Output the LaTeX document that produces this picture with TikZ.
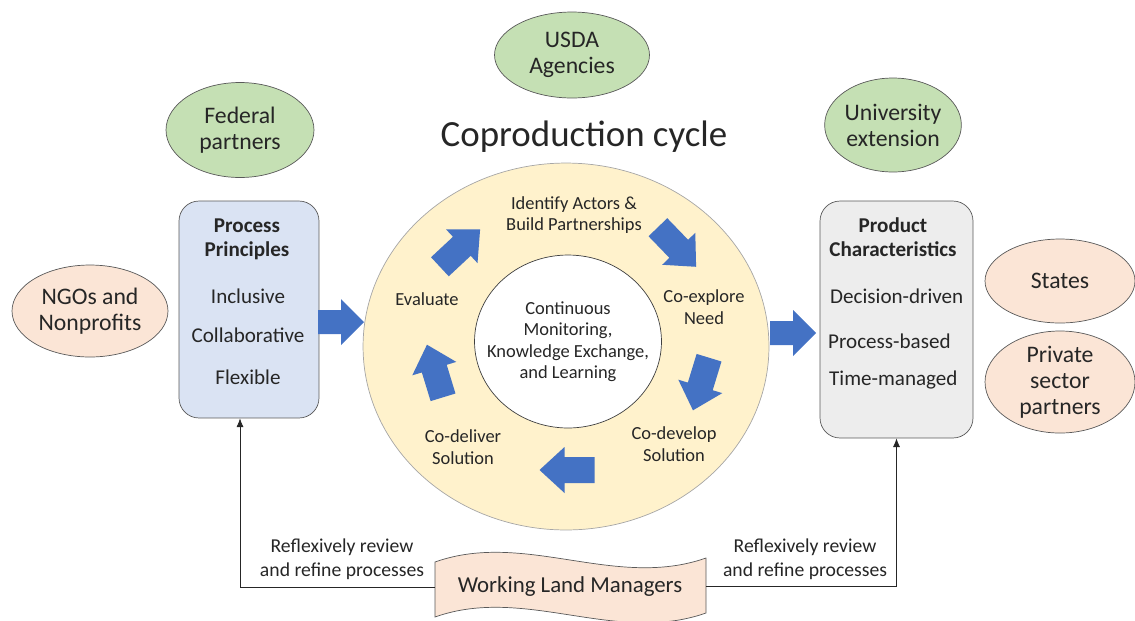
\documentclass[tikz,border=0pt]{standalone}
\usepackage{fontspec}
\setmainfont{Carlito}
\usetikzlibrary{shapes.geometric, arrows.meta}
\definecolor{cyclefill}{HTML}{FFF2CC}
\definecolor{partnergreen}{HTML}{C5E0B4}
\definecolor{stakepeach}{HTML}{FBE5D6}
\definecolor{principlesblue}{HTML}{DAE3F3}
\definecolor{productgrey}{HTML}{EDEDED}
\definecolor{arrowblue}{HTML}{4472C4}
\definecolor{ink}{HTML}{262626}
\tikzset{
  blockarrow/.pic={
    \fill[arrowblue] (-27.5,-13) -- (2.5,-13) -- (2.5,-23) -- (27.5,0) -- (2.5,23) -- (2.5,13) -- (-27.5,13) -- cycle;
  },
  sidearrow/.pic={
    \fill[arrowblue] (-23,-12) -- (0,-12) -- (0,-23) -- (23,0) -- (0,23) -- (0,12) -- (-23,12) -- cycle;
  }
}
\begin{document}
\begin{tikzpicture}[x=0.02cm, y=-0.02cm, text=ink,
		partner/.style={ellipse, draw=black!65, fill=partnergreen, align=center, inner sep=0pt, font=\fontsize{13.5}{14.8}\selectfont},
		stake/.style={ellipse, draw=black!65, fill=stakepeach, align=center, inner sep=0pt, font=\fontsize{13.5}{14.8}\selectfont},
		box/.style={draw=black!65, rounded corners=0.4cm},
		boxtitle/.style={font=\bfseries\fontsize{12}{13.8}\selectfont, align=center},
		boxitem/.style={font=\fontsize{12}{14}\selectfont},
		steplabel/.style={font=\fontsize{10.5}{12.2}\selectfont, align=center},
		fb/.style={black!85, -{Latex[length=5pt, width=4pt]}}]
		\useasboundingbox (0,0) rectangle (1135,620);
		% Partner ellipses
		\node[partner, minimum width=2.96cm, minimum height=1.9cm] (Federal) at (240,130) {Federal\\partners};
		\node[partner, minimum width=3.1cm, minimum height=1.72cm] (USDA) at (572,55) {USDA\\Agencies};
		\node[partner, minimum width=2.7cm, minimum height=1.88cm] (University) at (893,125) {University\\extension};
		\node[stake, minimum width=3.12cm, minimum height=1.84cm] (NGOs) at (90,311) {NGOs and\\Nonprofits};
		\node[stake, minimum width=3.0cm, minimum height=1.68cm] (States) at (1060,281) {States};
		\node[stake, minimum width=3.0cm, minimum height=1.92cm] (Private) at (1060,382) {Private\\sector\\partners};
		% Coproduction cycle
		\node[font=\fontsize{21}{24}\selectfont] (Title) at (584,137) {Coproduction cycle};
		\node[ellipse, draw=black!35, fill=cyclefill, minimum width=8.12cm, minimum height=7.34cm] (Cycle) at (566,346.5) {};
		\node[ellipse, draw=black!75, fill=white, minimum width=3.74cm, minimum height=3.46cm, inner sep=0pt] (Hub) at (568,341.5) {};
		\node[font=\fontsize{10.5}{12.2}\selectfont, align=center] (Learning) at (Hub) {Continuous\\Monitoring,\\Knowledge Exchange,\\and Learning};
		\node[steplabel] (Identify) at (574,215) {Identify Actors \&\\Build Partnerships};
		\node[steplabel] (Explore) at (704,307) {Co-explore\\Need};
		\node[steplabel] (Develop) at (674,444) {Co-develop\\Solution};
		\node[steplabel] (Deliver) at (463,447) {Co-deliver\\Solution};
		\node[steplabel] (Evaluate) at (427,299) {Evaluate};
		\pic[rotate=43] at (460,248) {blockarrow};
		\pic[rotate=-46] at (677,247) {blockarrow};
		\pic[rotate=-107] at (701,384) {blockarrow};
		\pic[rotate=180] at (567,470) {blockarrow};
		\pic[rotate=107] at (435,371) {blockarrow};
		% Boxes
		\node[box, fill=principlesblue, minimum width=2.8cm, minimum height=4.34cm] (Principles) at (249,309.5) {};
		\node[boxtitle] (PrinciplesTitle) at (247,239) {Process\\Principles};
		\node[boxitem] (Inclusive) at (248,296) {Inclusive};
		\node[boxitem] (Collaborative) at (248,335) {Collaborative};
		\node[boxitem] (Flexible) at (248,377) {Flexible};
		\node[box, fill=productgrey, minimum width=3.06cm, minimum height=4.74cm] (Product) at (896.5,319.5) {};
		\node[boxtitle] (ProductTitle) at (893,237) {Product\\Characteristics};
		\node[boxitem, anchor=west] (Decision) at (824,296) {Decision-driven};
		\node[boxitem, anchor=west] (ProcessBased) at (822,341) {Process-based};
		\node[boxitem, anchor=west] (TimeManaged) at (823,380) {Time-managed};
		\pic at (341,322) {sidearrow};
		\pic at (793,333) {sidearrow};
		% Working Land Managers
		\fill[stakepeach, draw=black!65] (435,562) .. controls (525,530) and (615,590) .. (706,558) -- (706,613) .. controls (615,645) and (525,585) .. (435,617) -- cycle;
		\coordinate (ManagersWest) at (435,587);
		\coordinate (ManagersEast) at (706,586);
		\node[font=\fontsize{13}{15}\selectfont] (Managers) at (570,587) {Working Land Managers};
		% Feedback
		\node[font=\fontsize{11.2}{13.5}\selectfont, align=center] (ReviewLeft) at (342,559) {Reflexively review\\and refine processes};
		\node[font=\fontsize{11.2}{13.5}\selectfont, align=center] (ReviewRight) at (805,559) {Reflexively review\\and refine processes};
		\draw[fb] (ManagersWest) -| ([xshift=-0.18cm]Principles.south);
		\draw[fb] (ManagersEast) -| (Product.south);
	\end{tikzpicture}
\end{document}
